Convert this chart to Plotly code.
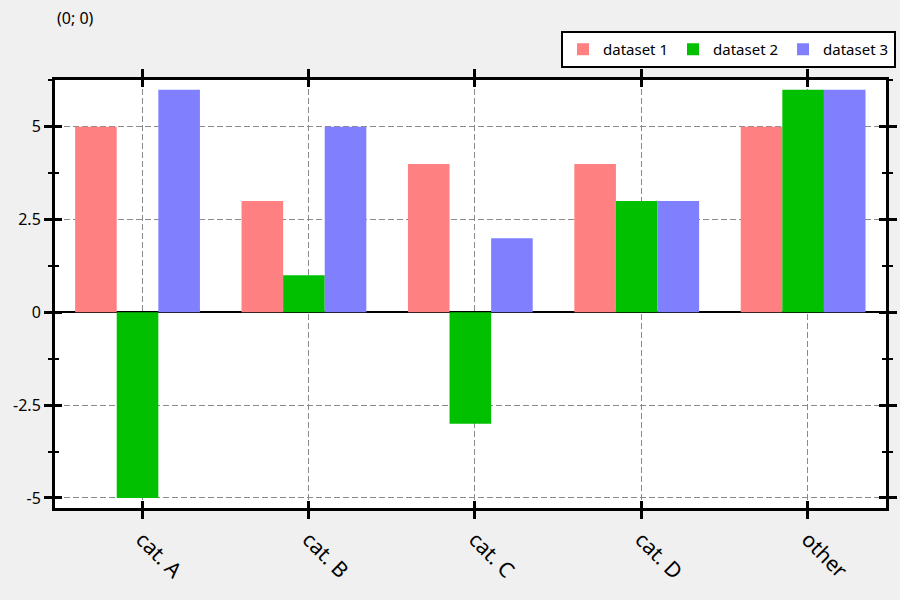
import plotly.graph_objects as go

categories = ["cat. A", "cat. B", "cat. C", "cat. D", "other"]
dataset1 = [5, 3, 4, 4, 5]
dataset2 = [-5, 1, -3, 3, 6]
dataset3 = [6, 5, 2, 3, 6]
series_names = ["dataset 1", "dataset 2", "dataset 3"]
colors = ["#ff8080", "#00c000", "#8080ff"]
ytick_vals = [-5, -2.5, 0, 2.5, 5]
ytick_text = ["-5", "-2.5", "0", "2.5", "5"]

xpos = list(range(len(categories)))
FONT = "Noto Sans"

fig = go.Figure()
bar_w = 0.25
shift = -0.027
for i, (name, vals, col) in enumerate(zip(series_names, [dataset1, dataset2, dataset3], colors)):
    fig.add_trace(go.Bar(
        x=xpos, y=vals, name=name, width=bar_w,
        offset=-0.375 + i * bar_w + shift,
        marker=dict(color=col, line=dict(width=0)),
    ))
# invisible trace to activate overlay axes
fig.add_trace(go.Scatter(x=[0], y=[0], xaxis="x2", yaxis="y2", mode="markers",
                         marker=dict(opacity=0), showlegend=False, hoverinfo="skip"))

xr = [-0.523, 4.471]
yr = [-5.27, 6.26]

common_x = dict(range=xr, tickvals=xpos, linecolor="black", linewidth=3, tickwidth=3,
                tickcolor="black", mirror="ticks", zeroline=False)
common_y = dict(range=yr, tickvals=ytick_vals, linecolor="black", linewidth=3, tickwidth=3,
                tickcolor="black", mirror="ticks")
GRID = dict(showgrid=True, gridcolor="#8a8a8a", griddash="6px,3px", gridwidth=1.2)

fig.update_layout(
    width=900, height=600,
    paper_bgcolor="#f0f0f0", plot_bgcolor="white",
    margin=dict(l=55, r=14, t=80, b=92, autoexpand=False),
    barmode="overlay",
    font=dict(family=FONT, color="black"),
    xaxis=dict(**common_x, **GRID, ticktext=categories, ticks="outside", ticklen=8,
               tickangle=45, tickfont=dict(size=21, family=FONT)),
    yaxis=dict(**common_y, **GRID, ticktext=ytick_text, ticks="outside", ticklen=8,
               tickfont=dict(size=16, family=FONT),
               zeroline=True, zerolinecolor="black", zerolinewidth=2,
               minor=dict(dtick=1.25, tick0=0, ticks="outside", ticklen=4,
                          tickwidth=2, tickcolor="black", showgrid=False)),
    xaxis2=dict(**common_x, overlaying="x", anchor="y2", ticks="inside", ticklen=7,
                showticklabels=False, showgrid=False),
    yaxis2=dict(**common_y, overlaying="y", anchor="x2", ticks="inside", ticklen=7,
                showticklabels=False, showgrid=False, zeroline=False,
                minor=dict(dtick=1.25, tick0=0, ticks="inside", ticklen=4,
                           tickwidth=2, tickcolor="black", showgrid=False)),
    legend=dict(orientation="h", x=(896 - 55) / 831, xanchor="right",
                y=1 + (80 - 31) / 428, yanchor="top",
                bgcolor="white", bordercolor="black", borderwidth=2,
                font=dict(size=15, family=FONT), itemwidth=30, tracegroupgap=0),
    annotations=[dict(text="(0; 0)", x=0, xanchor="left", y=1 + (80 - 18) / 428,
                      yanchor="middle", xref="paper", yref="paper", showarrow=False,
                      font=dict(size=16, family=FONT))],
)

fig.write_html("out.html")
